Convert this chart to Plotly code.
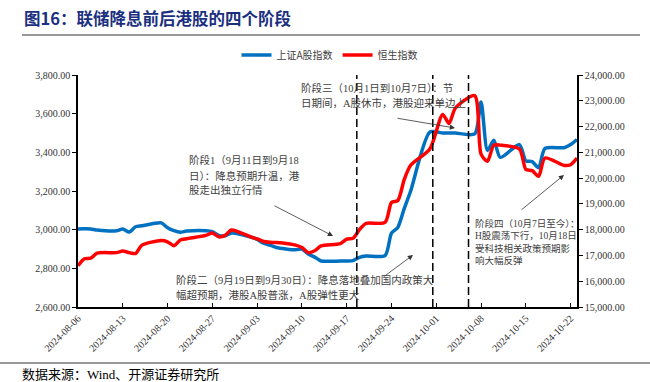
import plotly.graph_objects as go

# ---------------- data ----------------
dates = [
    "2024-08-06", "2024-08-07", "2024-08-08", "2024-08-09", "2024-08-12", "2024-08-13",
    "2024-08-14", "2024-08-15", "2024-08-16", "2024-08-19", "2024-08-20", "2024-08-21",
    "2024-08-22", "2024-08-23", "2024-08-26", "2024-08-27", "2024-08-28", "2024-08-29",
    "2024-08-30",
    "2024-09-02", "2024-09-03", "2024-09-04", "2024-09-05", "2024-09-06", "2024-09-09",
    "2024-09-10", "2024-09-11", "2024-09-12", "2024-09-13", "2024-09-16", "2024-09-17",
    "2024-09-18", "2024-09-19", "2024-09-20", "2024-09-23", "2024-09-24", "2024-09-25",
    "2024-09-26", "2024-09-27", "2024-09-30",
    "2024-10-02", "2024-10-03", "2024-10-04", "2024-10-07", "2024-10-08", "2024-10-09",
    "2024-10-10", "2024-10-11", "2024-10-14", "2024-10-15", "2024-10-16", "2024-10-17",
    "2024-10-18", "2024-10-21", "2024-10-22", "2024-10-23",
]

sh_a_index = [
    3003, 3005, 3004, 2998, 2994, 3004, 2988, 3015, 3020, 3035, 3010, 2995,
    2987, 2993, 2995, 2990, 2970, 2968, 2983,
    2962, 2950, 2930, 2920, 2908, 2896, 2900, 2874, 2858, 2838, 2838, 2838,
    2840, 2857, 2864, 2866, 2982, 3012, 3110, 3200, 3505,
    3500, 3500, 3500, 3495, 3660, 3410, 3462, 3374, 3440, 3356, 3352, 3320,
    3420, 3424, 3440, 3466,
]

hsi_index = [
    16600, 16870, 16895, 17090, 17110, 17170, 17110, 17075, 17400, 17580, 17530, 17380,
    17600, 17650, 17780, 17870, 17720, 17780, 17990,
    17720, 17640, 17540, 17510, 17500, 17400, 17310, 17110, 17180, 17370, 17460, 17630,
    17670, 18000, 18240, 18280, 19050, 19130, 19950, 20500, 21130,
    22470, 22120, 22720, 23200, 20930, 20650, 21280, 21280, 21130, 20340, 20290, 20070,
    20780, 20490, 20520, 20780,
]

series_names = ["上证A股指数", "恒生指数"]
phase_lines = ["2024-09-18 14:00", "2024-09-30 11:00", "2024-10-06 01:00"]

title_text = "图16：联储降息前后港股的四个阶段"
source_text = "数据来源：Wind、开源证券研究所"

phase1 = ["阶段1（9月11日到9月18", "日）：降息预期升温，港", "股走出独立行情"]
phase2 = ["阶段二（9月19日到9月30日）：降息落地叠加国内政策大", "幅超预期，港股A股普涨，A股弹性更大"]
phase3 = ["阶段三（10月1日到10月7日）：节", "日期间，A股休市，港股迎来单边上"]
phase4 = ["阶段四（10月7日至今）：", "H股震荡下行，10月18日", "受科技相关政策预期影", "响大幅反弹"]

# ---------------- figure ----------------
W, H = 650, 382
L, R, T, B = 78, 577, 75, 307


def px(x):
    return (x - L) / (R - L)


def py(y):
    return (B - y) / (B - T)


fig = go.Figure()
fig.add_trace(go.Scatter(
    x=dates, y=sh_a_index, name=series_names[0], mode="lines",
    line=dict(color="#0070C0", width=3.5, shape="spline", smoothing=0.7),
))
fig.add_trace(go.Scatter(
    x=dates, y=hsi_index, name=series_names[1], mode="lines", yaxis="y2",
    line=dict(color="#FF0000", width=3.5, shape="spline", smoothing=0.7),
))

tick_font = dict(family="Liberation Serif, Noto Sans CJK SC", size=10, color="#333333")
ann_font = dict(family="Liberation Serif, Noto Sans CJK SC", size=10.5, color="#404040")
ann_font_small = dict(family="Liberation Serif, Noto Sans CJK SC", size=9.5, color="#404040")

fig.update_layout(
    width=W, height=H,
    margin=dict(l=L, r=W - R, t=T, b=H - B, pad=0, autoexpand=False),
    plot_bgcolor="white", paper_bgcolor="white",
    showlegend=True,
    legend=dict(orientation="h", x=px(330), y=py(55), xanchor="center", yanchor="middle",
                font=dict(family="Noto Sans CJK SC", size=10, color="#404040"),
                itemwidth=30, bgcolor="rgba(0,0,0,0)"),
    xaxis=dict(
        type="date", range=["2024-08-06", "2024-10-23"],
        tick0="2024-08-06", dtick=7 * 86400000, tickformat="%Y-%m-%d",
        tickangle=-45, ticks="inside", ticklen=4, tickcolor="black",
        showline=True, linecolor="black", linewidth=1.5, showgrid=False, zeroline=False,
        tickfont=tick_font,
    ),
    yaxis=dict(
        range=[2600, 3800], dtick=200, tickformat=",.2f",
        ticks="outside", ticklen=4, tickcolor="black",
        showline=True, linecolor="black", linewidth=1.5, showgrid=False, zeroline=False,
        tickfont=tick_font,
    ),
    yaxis2=dict(
        overlaying="y", side="right",
        range=[15000, 24000], dtick=1000, tickformat=",.2f",
        ticks="outside", ticklen=4, tickcolor="black",
        showline=True, linecolor="black", linewidth=1.5, showgrid=False, zeroline=False,
        tickfont=tick_font,
    ),
)

shapes = []
for d in phase_lines:
    shapes.append(dict(type="line", xref="x", yref="paper", x0=d, x1=d, y0=0, y1=1,
                       line=dict(color="black", width=1.5, dash="8px,4px")))
# header and footer rules
shapes.append(dict(type="line", xref="paper", yref="paper", x0=px(22), x1=px(640),
                   y0=py(35), y1=py(35), line=dict(color="#999999", width=2)))
shapes.append(dict(type="line", xref="paper", yref="paper", x0=px(0), x1=px(650),
                   y0=py(363), y1=py(363), line=dict(color="#999999", width=2)))
fig.update_layout(shapes=shapes)

anns = []
anns.append(dict(text="<b>" + title_text + "</b>", xref="paper", yref="paper",
                 x=px(22), y=py(18), xanchor="left", yanchor="middle", showarrow=False,
                 font=dict(family="Noto Sans CJK SC", size=16.5, color="#1B2F80")))
anns.append(dict(text=source_text, xref="paper", yref="paper",
                 x=px(20), y=py(374), xanchor="left", yanchor="middle", showarrow=False,
                 font=dict(family="Liberation Serif, Noto Sans CJK SC", size=13, color="black")))


def add_lines(lines, x0, ys, font):
    for t, y in zip(lines, ys):
        anns.append(dict(text=t, xref="paper", yref="paper", x=px(x0), y=py(y),
                         xanchor="left", yanchor="middle", showarrow=False, font=font))


add_lines(phase1, 187, [160, 175.5, 190], ann_font)
add_lines(phase2, 174, [280, 294.5], ann_font)
add_lines(phase3, 299, [88, 103], ann_font)
add_lines(phase4, 473, [223, 235.5, 248, 260.5], ann_font_small)


def add_arrow(tail, head):
    anns.append(dict(text="", xref="paper", yref="paper", x=px(head[0]), y=py(head[1]),
                     ax=tail[0] - head[0], ay=tail[1] - head[1], axref="pixel", ayref="pixel",
                     showarrow=True, arrowhead=2, arrowsize=1.3, arrowwidth=0.8,
                     arrowcolor="#333333"))


add_arrow((273, 205), (333, 236))
add_arrow((382, 278), (413, 255))
add_arrow((396, 118), (455, 128))
add_arrow((520, 211), (564, 175))

fig.update_layout(annotations=anns)

fig.write_html("out.html", config={"displayModeBar": False},
               post_script="document.body.style.margin='0';document.body.style.padding='0';")
